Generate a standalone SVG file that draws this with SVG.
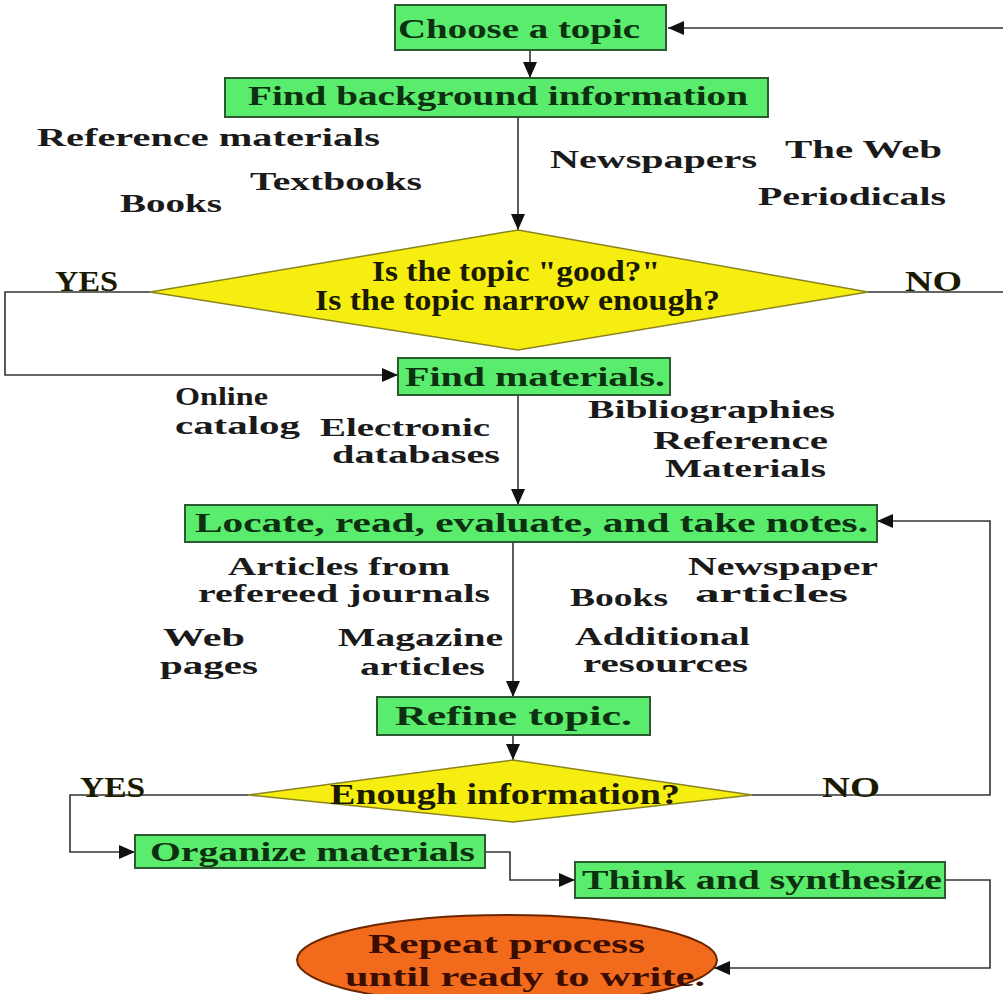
<svg xmlns="http://www.w3.org/2000/svg" width="1003" height="994" viewBox="0 0 1003 994">
<style>
.box{fill:#5aec6c;stroke:#2e5a32;stroke-width:2}
.dia{fill:#f6ee10;stroke:#8a8420;stroke-width:1.5}
.ell{fill:#f26b1d;stroke:#6b2600;stroke-width:2}
.bt{font-family:"Liberation Serif",serif;font-weight:bold;font-size:28px;fill:#0d3010}
.lb{font-family:"Liberation Serif",serif;font-weight:bold;font-size:26px;fill:#1a1a1a}
.dt{font-family:"Liberation Serif",serif;font-weight:bold;font-size:29px;fill:#1a1a00}
.et{font-family:"Liberation Serif",serif;font-weight:bold;font-size:28px;fill:#3a0d00}
.cn{fill:none;stroke:#333;stroke-width:1.6}
</style>
<defs>
<marker id="ah" markerUnits="userSpaceOnUse" markerWidth="18" markerHeight="14" refX="16" refY="7" orient="auto">
<path d="M0,0 L16,7 L0,14 Z" fill="#111"/>
</marker>
</defs>
<rect width="1003" height="994" fill="#ffffff"/>
<text class="lb" x="893" y="-6" font-size="50" textLength="70" lengthAdjust="spacingAndGlyphs">gy</text>
<g id="connectors">
<path class="cn" d="M530,50 L530,78" marker-end="url(#ah)"/>
<path class="cn" d="M1003,28 L668,28" marker-end="url(#ah)"/>
<path class="cn" d="M518,117 L518,230" marker-end="url(#ah)"/>
<path class="cn" d="M150,292 L5,292 L5,375 L398,375" marker-end="url(#ah)"/>
<path class="cn" d="M868,292 L1003,292"/>
<path class="cn" d="M518,395 L518,505" marker-end="url(#ah)"/>
<path class="cn" d="M513,542 L513,697" marker-end="url(#ah)"/>
<path class="cn" d="M513,735 L513,760" marker-end="url(#ah)"/>
<path class="cn" d="M752,795 L990,795 L990,521 L877,521" marker-end="url(#ah)"/>
<path class="cn" d="M248,795 L70,795 L70,852 L135,852" marker-end="url(#ah)"/>
<path class="cn" d="M485,852 L510,852 L510,880 L575,880" marker-end="url(#ah)"/>
<path class="cn" d="M945,880 L990,880 L990,968 L714,968" marker-end="url(#ah)"/>
</g>
<g id="choose">
<rect class="box" x="395" y="5" width="271" height="45"/>
<text class="bt" x="398" y="38" textLength="242" lengthAdjust="spacingAndGlyphs">Choose a topic</text>
</g>
<g id="findbg">
<rect class="box" x="225" y="78" width="543" height="39"/>
<text class="bt" x="248" y="105" textLength="500" lengthAdjust="spacingAndGlyphs">Find background information</text>
</g>
<g id="labels1">
<text class="lb" x="37" y="146" textLength="343" lengthAdjust="spacingAndGlyphs">Reference materials</text>
<text class="lb" x="250" y="190" textLength="172" lengthAdjust="spacingAndGlyphs">Textbooks</text>
<text class="lb" x="120" y="212" textLength="102" lengthAdjust="spacingAndGlyphs">Books</text>
<text class="lb" x="550" y="168" textLength="207" lengthAdjust="spacingAndGlyphs">Newspapers</text>
<text class="lb" x="785" y="158" textLength="157" lengthAdjust="spacingAndGlyphs">The Web</text>
<text class="lb" x="758" y="205" textLength="188" lengthAdjust="spacingAndGlyphs">Periodicals</text>
</g>
<g id="decision1">
<polygon class="dia" points="518,230 868,292 518,350 150,292"/>
<text class="dt" x="372" y="281" textLength="288" lengthAdjust="spacingAndGlyphs">Is the topic "good?"</text>
<text class="dt" x="315" y="310" textLength="405" lengthAdjust="spacingAndGlyphs">Is the topic narrow enough?</text>
<text class="dt" x="55" y="291" textLength="63" lengthAdjust="spacingAndGlyphs">YES</text>
<text class="dt" x="905" y="291" textLength="57" lengthAdjust="spacingAndGlyphs">NO</text>
</g>
<g id="findmat">
<rect class="box" x="398" y="358" width="272" height="37"/>
<text class="bt" x="405" y="386" textLength="260" lengthAdjust="spacingAndGlyphs">Find materials.</text>
</g>
<g id="labels2">
<text class="lb" x="175" y="405" textLength="93" lengthAdjust="spacingAndGlyphs">Online</text>
<text class="lb" x="175" y="434" textLength="125" lengthAdjust="spacingAndGlyphs">catalog</text>
<text class="lb" x="320" y="436" textLength="170" lengthAdjust="spacingAndGlyphs">Electronic</text>
<text class="lb" x="332" y="463" textLength="168" lengthAdjust="spacingAndGlyphs">databases</text>
<text class="lb" x="588" y="418" textLength="247" lengthAdjust="spacingAndGlyphs">Bibliographies</text>
<text class="lb" x="653" y="449" textLength="175" lengthAdjust="spacingAndGlyphs">Reference</text>
<text class="lb" x="665" y="477" textLength="161" lengthAdjust="spacingAndGlyphs">Materials</text>
</g>
<g id="locate">
<rect class="box" x="185" y="505" width="692" height="37"/>
<text class="bt" x="195" y="532" textLength="673" lengthAdjust="spacingAndGlyphs">Locate, read, evaluate, and take notes.</text>
</g>
<g id="labels3">
<text class="lb" x="228" y="575" textLength="222" lengthAdjust="spacingAndGlyphs">Articles from</text>
<text class="lb" x="198" y="602" textLength="292" lengthAdjust="spacingAndGlyphs">refereed journals</text>
<text class="lb" x="688" y="575" textLength="190" lengthAdjust="spacingAndGlyphs">Newspaper</text>
<text class="lb" x="570" y="606" textLength="98" lengthAdjust="spacingAndGlyphs">Books</text>
<text class="lb" x="695" y="602" textLength="153" lengthAdjust="spacingAndGlyphs">articles</text>
<text class="lb" x="163" y="646" textLength="82" lengthAdjust="spacingAndGlyphs">Web</text>
<text class="lb" x="160" y="674" textLength="98" lengthAdjust="spacingAndGlyphs">pages</text>
<text class="lb" x="338" y="646" textLength="165" lengthAdjust="spacingAndGlyphs">Magazine</text>
<text class="lb" x="360" y="675" textLength="125" lengthAdjust="spacingAndGlyphs">articles</text>
<text class="lb" x="575" y="645" textLength="175" lengthAdjust="spacingAndGlyphs">Additional</text>
<text class="lb" x="583" y="672" textLength="165" lengthAdjust="spacingAndGlyphs">resources</text>
</g>
<g id="refine">
<rect class="box" x="377" y="697" width="273" height="38"/>
<text class="bt" x="395" y="725" textLength="237" lengthAdjust="spacingAndGlyphs">Refine topic.</text>
</g>
<g id="decision2">
<polygon class="dia" points="513,760 752,795 513,822 248,795"/>
<text class="dt" x="330" y="804" textLength="350" lengthAdjust="spacingAndGlyphs">Enough information?</text>
<text class="dt" x="80" y="797" textLength="65" lengthAdjust="spacingAndGlyphs">YES</text>
<text class="dt" x="822" y="797" textLength="58" lengthAdjust="spacingAndGlyphs">NO</text>
</g>
<g id="organize">
<rect class="box" x="135" y="835" width="350" height="33"/>
<text class="bt" x="150" y="861" textLength="325" lengthAdjust="spacingAndGlyphs">Organize materials</text>
</g>
<g id="think">
<rect class="box" x="575" y="862" width="370" height="36"/>
<text class="bt" x="582" y="889" textLength="360" lengthAdjust="spacingAndGlyphs">Think and synthesize</text>
</g>
<g id="repeat">
<ellipse class="ell" cx="507" cy="960" rx="210" ry="45"/>
<text class="et" x="368" y="953" textLength="277" lengthAdjust="spacingAndGlyphs">Repeat process</text>
<text class="et" x="345" y="986" textLength="360" lengthAdjust="spacingAndGlyphs">until ready to write.</text>
</g>
</svg>
